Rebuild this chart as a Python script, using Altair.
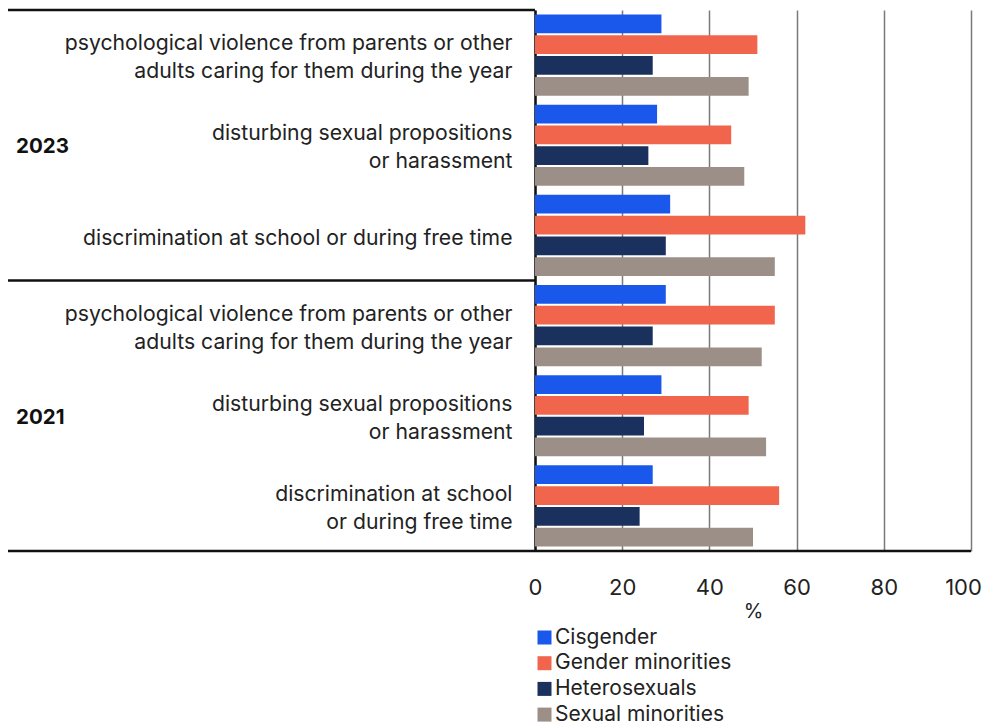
import altair as alt
import pandas as pd

# ---- data ----
years = ["2023", "2023", "2023", "2021", "2021", "2021"]
categories = [
    "psychological violence from parents or other|adults caring for them during the year",
    "disturbing sexual propositions|or harassment",
    "discrimination at school or during free time",
    "psychological violence from parents or other|adults caring for them during the year",
    "disturbing sexual propositions|or harassment",
    "discrimination at school|or during free time",
]
groups = ["Cisgender", "Gender minorities", "Heterosexuals", "Sexual minorities"]
colors = ["#1a57eb", "#f2654d", "#1b315d", "#9c8f87"]
cisgender = [29, 28, 31, 30, 29, 27]
gender_minorities = [51, 45, 62, 55, 49, 56]
heterosexuals = [27, 26, 30, 27, 25, 24]
sexual_minorities = [49, 48, 55, 52, 53, 50]
x_ticks = [0, 20, 40, 60, 80, 100]
year_labels = ["2023", "2021"]

W, H = 436, 541
FONT = "Inter"
TXT = "#222222"
LINE = "#111111"

keys = [f"{y}~{c}" for y, c in zip(years, categories)]
series = [cisgender, gender_minorities, heterosexuals, sexual_minorities]
rows = []
for g, vals in zip(groups, series):
    for k, v in zip(keys, vals):
        rows.append({"key": k, "group": g, "value": v})
df = pd.DataFrame(rows)

yscale = alt.Scale(domain=keys, paddingInner=0.1, paddingOuter=0.05)

bars = alt.Chart(df).mark_bar().encode(
    x=alt.X("value:Q", scale=alt.Scale(domain=[0, 100], nice=False),
            axis=alt.Axis(values=x_ticks, title="%", grid=True, gridColor="#7a7a7a",
                          gridWidth=1.5, domain=False, ticks=False,
                          labelFontSize=22, labelPadding=26, labelColor=TXT,
                          labelFont=FONT, titleFont=FONT, titleFontSize=20,
                          titleFontWeight="normal", titleColor=TXT, titlePadding=3,
                          labelFlush=False,
                          labelOffset={"condition": {"test": "datum.value == 100", "value": -8},
                                       "value": 0})),
    y=alt.Y("key:N", scale=yscale, sort=keys,
            axis=alt.Axis(title=None, ticks=False, domain=True, domainColor=LINE,
                          domainWidth=2.5, labelFontSize=21.2, labelFont=FONT,
                          labelColor=TXT, labelPadding=23, labelLineHeight=28,
                          labelLimit=600,
                          labelOffset={"condition": {"test": "length(split(datum.value, '|')) > 1",
                                                     "value": -11},
                                       "value": 4},
                          labelExpr="split(split(datum.value, '~')[1], '|')")),
    yOffset=alt.YOffset("group:N", sort=groups, scale=alt.Scale(paddingInner=0.1)),
    color=alt.Color("group:N", sort=groups,
                    scale=alt.Scale(domain=groups, range=colors),
                    legend=alt.Legend(title=None, orient="none", legendX=-1, legendY=617,
                                      direction="vertical", symbolType="square",
                                      symbolSize=196, symbolStrokeWidth=0,
                                      labelFontSize=21, labelFont=FONT, labelColor=TXT,
                                      labelOffset=0, rowPadding=3.7, labelLimit=400)),
)

# year labels placed on the middle category band of each year
ydf = pd.DataFrame({"key": [keys[1], keys[4]], "label": year_labels})
year_text = alt.Chart(ydf).mark_text(
    align="left", baseline="middle", fontSize=20.5, fontWeight="bold",
    font=FONT, color=LINE, dy=2
).encode(
    x=alt.value(-519),
    y=alt.Y("key:N", scale=yscale, sort=keys),
    text="label:N",
)

one = pd.DataFrame({"a": [0]})
rule_style = dict(color=LINE, strokeWidth=2.5)
top_rule = alt.Chart(one).mark_rule(**rule_style).encode(
    x=alt.value(-527), x2=alt.value(0), y=alt.value(0))
mid_rule = alt.Chart(one).mark_rule(**rule_style).encode(
    x=alt.value(-527), x2=alt.value(0), y=alt.value(H / 2))
bot_rule = alt.Chart(one).mark_rule(**rule_style).encode(
    x=alt.value(-527), x2=alt.value(W), y=alt.value(H))

chart = alt.layer(bars, year_text, top_rule, mid_rule, bot_rule).properties(
    width=W, height=H,
    autosize=alt.AutoSizeParams(type="none"),
    padding={"top": 2, "left": 527, "right": 12, "bottom": 184},
).configure_view(stroke=None)

chart.save("out.html", embed_options={"renderer": "svg", "actions": False})
